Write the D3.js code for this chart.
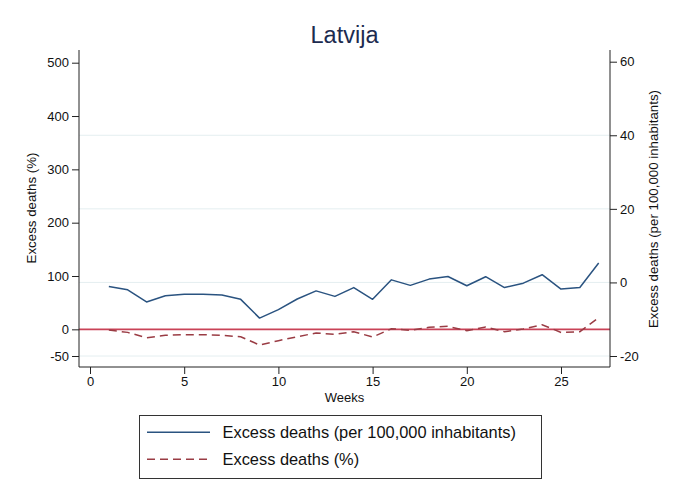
<!DOCTYPE html>
<html><head><meta charset="utf-8">
<script src="https://cdn.jsdelivr.net/npm/d3@7"></script>
<style>body{margin:0;background:#fff}svg{display:block}text{font-family:Helvetica,Arial,"Liberation Sans",sans-serif}</style>
</head><body><svg id="c" width="675" height="493"></svg>
<script>
const title = "Latvija";
const weeks = [1,2,3,4,5,6,7,8,9,10,11,12,13,14,15,16,17,18,19,20,21,22,23,24,25,26,27];
const perCapita = [-1.1,-2.0,-5.3,-3.6,-3.2,-3.2,-3.4,-4.6,-9.7,-7.4,-4.5,-2.3,-3.8,-1.4,-4.6,0.7,-0.8,0.9,1.6,-0.9,1.55,-1.4,-0.2,2.1,-1.8,-1.4,5.3];
const percent = [-1.3,-5.7,-15.7,-11.3,-10,-10,-11.3,-13.8,-29.4,-21.3,-13.8,-6.9,-9.4,-4.4,-14.4,1.2,-1.9,3.7,5.6,-2.5,4.4,-4.4,0.6,8.7,-5.7,-4.4,21.8];
const xTicks = [0,5,10,15,20,25];
const leftTicks = [-50,0,100,200,300,400,500];
const rightTicks = [-20,0,20,40,60];
const gridTicks = [-20,0,20,40];
const leftTitle = "Excess deaths (%)";
const rightTitle = "Excess deaths (per 100,000 inhabitants)";
const xTitle = "Weeks";
const legendLabels = ["Excess deaths (per 100,000 inhabitants)", "Excess deaths (%)"];

const svg = d3.select("#c");
const L = 79, R = 610, T = 50, B = 367;
const x = d3.scaleLinear().domain([0,25]).range([90,561]);
const yL = d3.scaleLinear().domain([-50,500]).range([356,62.7]);
const yR = d3.scaleLinear().domain([-20,60]).range([356,61.7]);

const blue = "#2a5380", maroon = "#9a3c44";

// gridlines
svg.append("g").selectAll("line").data(gridTicks).join("line")
  .attr("x1", L).attr("x2", R).attr("y1", d=>yR(d)).attr("y2", d=>yR(d))
  .attr("stroke", "#e4eef0").attr("stroke-width", 1);

// zero reference line
svg.append("line").attr("x1", L).attr("x2", R).attr("y1", yL(0)).attr("y2", yL(0))
  .attr("stroke", "#c94257").attr("stroke-width", 1.6);

// series
const lineR = d3.line().x((d,i)=>x(weeks[i])).y(d=>yR(d));
const lineL = d3.line().x((d,i)=>x(weeks[i])).y(d=>yL(d));
svg.append("path").datum(perCapita).attr("d", lineR).attr("fill","none")
  .attr("stroke", blue).attr("stroke-width", 1.5).attr("stroke-linejoin","round");
svg.append("path").datum(percent).attr("d", lineL).attr("fill","none")
  .attr("stroke", maroon).attr("stroke-width", 1.5).attr("stroke-dasharray","8,5");

// axes
const fmt = d => String(d);
function styleAxis(g){
  g.selectAll("path").attr("stroke","#222").attr("stroke-width",1);
  g.selectAll("line").attr("stroke","#222");
  g.selectAll("text").attr("font-size","13px").attr("fill","#111")
    .attr("font-family",'Helvetica,Arial,"Liberation Sans",sans-serif');
}
const gl = svg.append("g").attr("transform",`translate(${L},0)`)
  .call(d3.axisLeft(yL).tickValues(leftTicks).tickFormat(fmt).tickSize(7).tickPadding(3).tickSizeOuter(0));
gl.select(".domain").attr("d", `M0,${T}V${B}`);
styleAxis(gl);
const gr = svg.append("g").attr("transform",`translate(${R},0)`)
  .call(d3.axisRight(yR).tickValues(rightTicks).tickFormat(fmt).tickSize(7).tickPadding(3).tickSizeOuter(0));
gr.select(".domain").attr("d", `M0,${T}V${B}`);
styleAxis(gr);
const gx = svg.append("g").attr("transform",`translate(0,${B})`)
  .call(d3.axisBottom(x).tickValues(xTicks).tickFormat(fmt).tickSize(7).tickPadding(3).tickSizeOuter(0));
gx.select(".domain").attr("d", `M${L},0H${R}`);
styleAxis(gx);

// titles
svg.append("text").attr("x", (L+R)/2).attr("y", 42.5).attr("text-anchor","middle")
  .attr("font-size","23.5px").attr("fill","#1c2b4f").text(title);
svg.append("text").attr("transform",`translate(36,208) rotate(-90)`).attr("text-anchor","middle")
  .attr("font-size","13.3px").attr("fill","#111").text(leftTitle);
svg.append("text").attr("transform",`translate(658,209) rotate(-90)`).attr("text-anchor","middle")
  .attr("font-size","13.3px").attr("fill","#111").text(rightTitle);
svg.append("text").attr("x", (L+R)/2).attr("y", 402).attr("text-anchor","middle")
  .attr("font-size","13px").attr("fill","#111").text(xTitle);

// legend
const lg = svg.append("g");
lg.append("rect").attr("x",139.5).attr("y",415.5).attr("width",402).attr("height",63)
  .attr("fill","#fff").attr("stroke","#333").attr("stroke-width",1);
const ly = [432.3, 459.3];
lg.append("line").attr("x1",147).attr("x2",210).attr("y1",ly[0]).attr("y2",ly[0])
  .attr("stroke",blue).attr("stroke-width",1.5);
lg.append("line").attr("x1",147).attr("x2",210).attr("y1",ly[1]).attr("y2",ly[1])
  .attr("stroke",maroon).attr("stroke-width",1.5).attr("stroke-dasharray","8,5");
lg.selectAll("text").data(legendLabels).join("text")
  .attr("x",222.5).attr("y",(d,i)=>ly[i]+5.8).attr("font-size","16.4px").attr("fill","#111").text(d=>d);
</script></body></html>
